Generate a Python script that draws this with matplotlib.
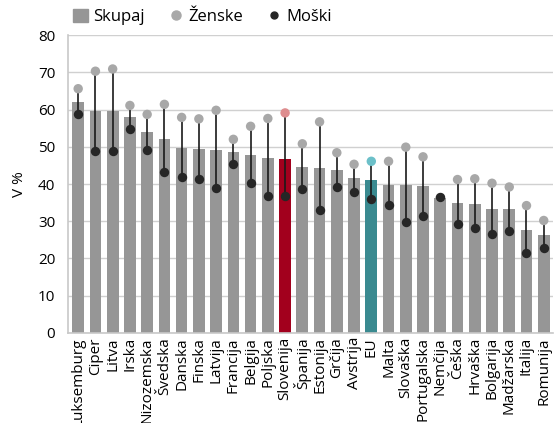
import numpy as np
import matplotlib.pyplot as plt
from matplotlib.lines import Line2D
from matplotlib.patches import Patch

plt.rcParams['font.family'] = ['Open Sans', 'DejaVu Sans']

countries = ['Luksemburg', 'Ciper', 'Litva', 'Irska', 'Nizozemska', 'Švedska', 'Danska',
             'Finska', 'Latvija', 'Francija', 'Belgija', 'Poljska', 'Slovenija', 'Španija',
             'Estonija', 'Grčija', 'Avstrija', 'EU', 'Malta', 'Slovaška', 'Portugalska',
             'Nemčija', 'Češka', 'Hrvaška', 'Bolgarija', 'Madžarska', 'Italija', 'Romunija']
skupaj = [62.0, 59.6, 59.5, 57.9, 53.9, 52.1, 49.7, 49.4, 49.1, 48.7, 47.7, 46.9, 46.6, 44.7,
          44.2, 43.8, 41.6, 41.0, 39.8, 39.7, 39.5, 36.2, 34.8, 34.6, 33.2, 33.2, 27.7, 26.3]
zenske = [65.6, 70.3, 70.9, 61.1, 58.7, 61.4, 57.9, 57.5, 59.8, 52.0, 55.5, 57.6, 59.1, 50.8,
          56.7, 48.4, 45.3, 46.1, 46.1, 49.9, 47.3, 36.3, 41.2, 41.4, 40.2, 39.2, 34.2, 30.2]
moski = [58.7, 48.8, 48.8, 54.8, 49.1, 43.2, 41.9, 41.3, 38.9, 45.4, 40.2, 36.7, 36.7, 38.7,
         33.0, 39.2, 37.9, 36.0, 34.4, 29.8, 31.4, 36.4, 29.3, 28.2, 26.6, 27.4, 21.5, 22.9]

grey = '#969696'
bar_colors = [grey] * len(countries)
fem_colors = ['#a8a8a8'] * len(countries)
bar_colors[countries.index('Slovenija')] = '#a2001d'
fem_colors[countries.index('Slovenija')] = '#de8d8f'
bar_colors[countries.index('EU')] = '#3a8a90'
fem_colors[countries.index('EU')] = '#6cc0c9'

fig = plt.figure(figsize=(5.56, 4.23), dpi=100)
ax = fig.add_axes([0.122, 0.213, 0.873, 0.704])

x = np.arange(len(countries))
ax.bar(x, skupaj, width=0.68, color=bar_colors, zorder=2)
ax.vlines(x, moski, zenske, color='#1a1a1a', lw=1.2, zorder=3)
ax.scatter(x, zenske, s=46, color=fem_colors, zorder=4, linewidths=0)
ax.scatter(x, moski, s=46, color='#262626', zorder=5, linewidths=0)

ax.set_xlim(-0.6, len(countries) - 0.45)
ax.set_ylim(0, 80)
ax.set_yticks(range(0, 81, 10))
ax.yaxis.grid(True, color='#d0d0d0', lw=1.0, zorder=0)
ax.set_axisbelow(True)
ax.set_xticks(x)
ax.set_xticklabels(countries, rotation=90, fontsize=11)
ax.tick_params(axis='y', length=0, labelsize=11, colors='black', pad=9)
ax.tick_params(axis='x', length=0, colors='black', pad=3)
for side in ['top', 'right']:
    ax.spines[side].set_visible(False)
for side in ['left', 'bottom']:
    ax.spines[side].set_color('#c8c8c8')
    ax.spines[side].set_linewidth(1.2)
ax.set_ylabel('V %', fontsize=11, labelpad=8)

handles = [Patch(color=grey, label='Skupaj'),
           Line2D([], [], marker='o', ls='', color='#a8a8a8', markersize=6.5, label='Ženske'),
           Line2D([], [], marker='o', ls='', color='#262626', markersize=5, label='Moški')]
fig.legend(handles=handles, loc='upper left', bbox_to_anchor=(0.105, 1.015), ncol=3,
           frameon=False, fontsize=12, handlelength=0.9, handleheight=0.9,
           handletextpad=0.3, columnspacing=1.4)

fig.savefig('out.png', dpi=100)
